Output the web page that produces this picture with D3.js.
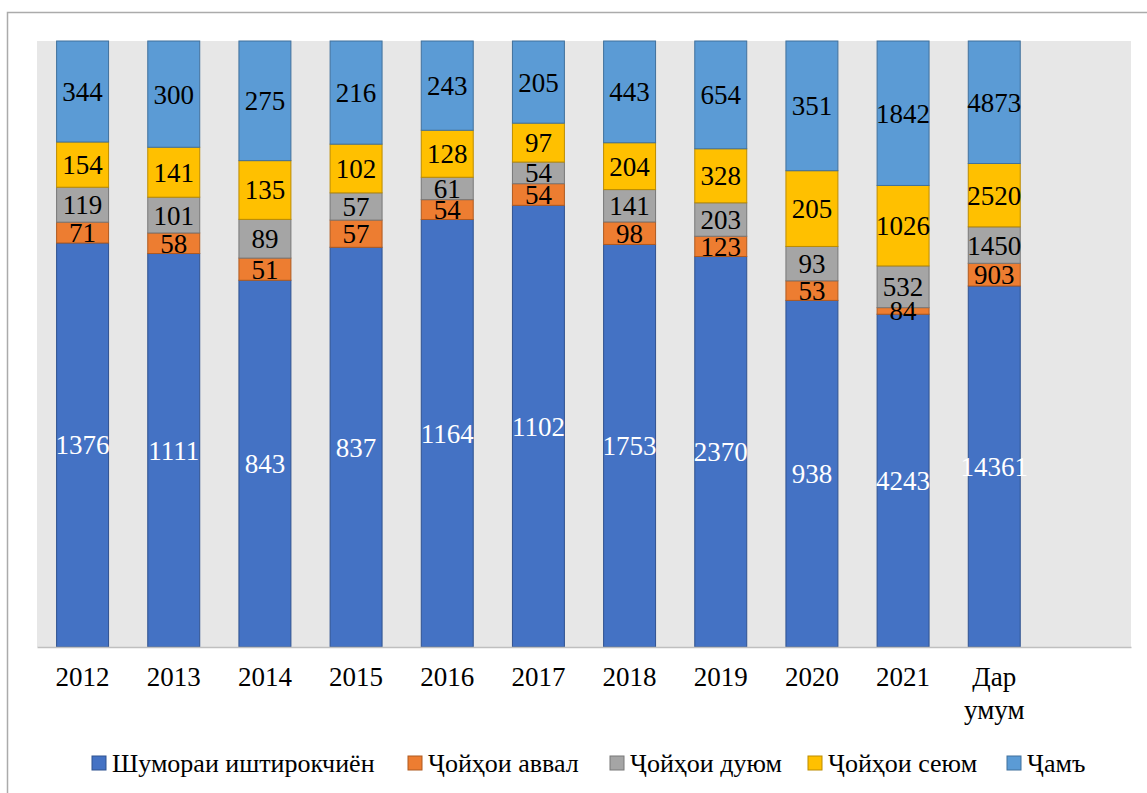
<!DOCTYPE html>
<html>
<head>
<meta charset="utf-8">
<script src="https://cdn.jsdelivr.net/npm/d3@7"></script>
<style>
  body { margin: 0; background: #fff; }
  svg { display: block; }
  svg text { font-family: "Liberation Serif", "Times New Roman", "DejaVu Serif", serif !important; }
</style>
</head>
<body>
<svg id="chart" width="1147" height="793"></svg>
<script>
const categories = ["2012","2013","2014","2015","2016","2017","2018","2019","2020","2021","Дар умум"];
const seriesNames = ["Шумораи иштирокчиён","Ҷойҳои аввал","Ҷойҳои дуюм","Ҷойҳои сеюм","Ҷамъ"];
const participants = [1376,1111,843,837,1164,1102,1753,2370,938,4243,14361];
const firstPlaces  = [71,58,51,57,54,54,98,123,53,84,903];
const secondPlaces = [119,101,89,57,61,54,141,203,93,532,1450];
const thirdPlaces  = [154,141,135,102,128,97,204,328,205,1026,2520];
const totals       = [344,300,275,216,243,205,443,654,351,1842,4873];

const seriesValues = [participants, firstPlaces, secondPlaces, thirdPlaces, totals];
const colors  = ["#4472C4","#ED7D31","#A5A5A5","#FFC000","#5B9BD5"];
const strokes = ["#2F528F","#AE5A21","#787878","#BC8C00","#41719C"];
const labelColors = ["#ffffff","#000","#000","#000","#000"];
const FONT = "'Liberation Serif', 'Times New Roman', serif";

const svg = d3.select("#chart");

// outer border
svg.append("rect").attr("x",7.5).attr("y",12.5).attr("width",1160).attr("height",800)
  .attr("fill","none").attr("stroke","#ababab").attr("stroke-width",1.5);

const plot = {left:37, right:1131, top:41, bottom:647};

svg.append("rect").attr("x",plot.left).attr("y",plot.top)
  .attr("width",plot.right-plot.left).attr("height",plot.bottom-plot.top)
  .attr("fill","#e7e7e7");

// 12 slots, last one empty
const slots = categories.concat(["__empty__"]);
const x = d3.scaleBand().domain(slots).range([plot.left, plot.right]).paddingInner(0.43).paddingOuter(0.215);
const y = d3.scaleLinear().domain([0,1]).range([plot.bottom, plot.top]);

const table = categories.map((c,i) => {
  const row = {cat:c};
  seriesNames.forEach((s,j) => row[s] = seriesValues[j][i]);
  return row;
});
const stack = d3.stack().keys(seriesNames).offset(d3.stackOffsetExpand);
const stacked = stack(table);

const g = svg.append("g");
stacked.forEach((layer, j) => {
  const lg = g.append("g");
  lg.selectAll("rect").data(layer).join("rect")
    .attr("x", d => x(d.data.cat))
    .attr("width", x.bandwidth())
    .attr("y", d => y(d[1]))
    .attr("height", d => y(d[0]) - y(d[1]))
    .attr("fill", colors[j])
    .attr("stroke", strokes[j])
    .attr("stroke-width", 1);
});
stacked.forEach((layer, j) => {
  g.append("g").selectAll("text").data(layer).join("text")
    .attr("x", d => x(d.data.cat) + x.bandwidth()/2)
    .attr("y", d => (y(d[0]) + y(d[1]))/2)
    .attr("dy","0.35em")
    .attr("text-anchor","middle")
    .attr("font-family", FONT)
    .attr("font-size", 27)
    .attr("fill", labelColors[j])
    .text(d => d.data[seriesNames[j]]);
});

// x axis
const axis = d3.axisBottom(x).tickSize(0).tickSizeOuter(0).tickFormat(d => d === "__empty__" ? "" : d);
const ax = svg.append("g").attr("transform", `translate(0,${plot.bottom})`).call(axis)
  .attr("font-family", FONT);
ax.select(".domain").attr("stroke","#bfbfbf").attr("stroke-width",1.5);
ax.selectAll(".tick text").attr("font-size",27).attr("fill","#000")
  .attr("font-family", FONT)
  .attr("y", 20).attr("dy","0.71em")
  .each(function(d){
    const t = d3.select(this);
    const words = String(d).split(" ");
    if (words.length > 1) {
      t.text(null);
      words.forEach((w,k) => t.append("tspan").attr("x",0).attr("dy", k===0 ? "0.71em" : "1.2em").text(w));
    }
  });

// legend
const legendX = [92, 408, 610, 808, 1007];
const legend = svg.append("g");
seriesNames.forEach((s,j) => {
  const lg = legend.append("g").attr("transform", `translate(${legendX[j]},763)`);
  lg.append("rect").attr("x",0).attr("y",-7).attr("width",14).attr("height",14)
    .attr("fill",colors[j]).attr("stroke",strokes[j]).attr("stroke-width",1);
  lg.append("text").attr("x",20).attr("y",0).attr("dy","0.35em")
    .attr("font-family", FONT)
    .attr("font-size",26).attr("fill","#000").text(s);
});
</script>
</body>
</html>
